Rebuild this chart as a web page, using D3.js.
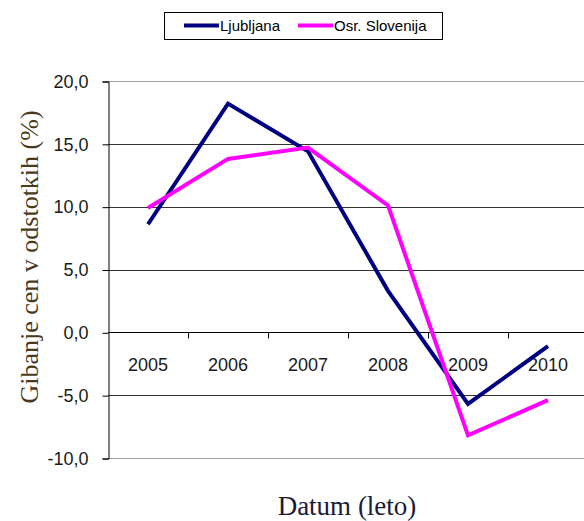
<!DOCTYPE html>
<html>
<head>
<meta charset="utf-8">
<script src="https://cdn.jsdelivr.net/npm/d3@7"></script>
<style>
  html, body { margin: 0; padding: 0; background: #ffffff; }
  svg { display: block; }
</style>
</head>
<body>
<svg id="chart" width="584" height="521"></svg>
<script>
// Letna gibanja cen (%)
const years = ["2005", "2006", "2007", "2008", "2009", "2010"];
const ljubljana = [8.6, 18.2, 14.4, 3.3, -5.7, -1.1];
const slovenija = [9.9, 13.8, 14.7, 10.1, -8.2, -5.4];
const yTicks = [-10, -5, 0, 5, 10, 15, 20];
const seriesNames = ["Ljubljana", "Osr. Slovenija"];
const seriesColors = ["#000080", "#ff00ff"];

const svg = d3.select("#chart");
const plot = { left: 108, right: 588, top: 81, bottom: 458 };
const sans = "Liberation Sans, Arial, sans-serif";
const serif = "Liberation Serif, Times New Roman, serif";

const x = d3.scaleBand().domain(years).range([plot.left, plot.right]);
const y = d3.scaleLinear().domain([-10, 20]).range([plot.bottom, plot.top]);

// horizontal gridlines
svg.append("g").selectAll("line")
  .data(yTicks)
  .join("line")
  .attr("x1", plot.left).attr("x2", plot.right)
  .attr("y1", d => Math.round(y(d)) + 0.5).attr("y2", d => Math.round(y(d)) + 0.5)
  .attr("stroke", d => (d === 20 || d === -10) ? "#a0a0a0" : (d === 0 ? "#000" : "#333"))
  .attr("stroke-width", 1);

// y axis
const yAxis = d3.axisLeft(y).tickValues(yTicks).tickSize(6).tickPadding(14)
  .tickFormat(d => d3.format(".1f")(d).replace(".", ",").replace("−", "-"));
const gy = svg.append("g").attr("transform", `translate(${plot.left + 0.5},0.5)`).call(yAxis);
gy.select(".domain").attr("stroke", "#000");
gy.selectAll(".tick line").attr("stroke", "#000");
gy.selectAll(".tick text")
  .attr("font-family", sans)
  .attr("font-size", 18).attr("fill", "#1a1a1a");

// x axis along the zero line, ticks between categories
const xAxis = d3.axisBottom(x).tickSize(0).tickPadding(0);
const gx = svg.append("g").attr("transform", `translate(0,${Math.round(y(0)) + 0.5})`).call(xAxis);
gx.select(".domain").remove();
gx.selectAll(".tick text")
  .attr("dy", 0).attr("y", 38)
  .attr("font-family", sans)
  .attr("font-size", 18).attr("fill", "#1a1a1a");
gx.selectAll(".sep")
  .data(years.slice(1))
  .join("line")
  .attr("class", "sep")
  .attr("x1", d => Math.round(x(d)) + 0.5).attr("x2", d => Math.round(x(d)) + 0.5)
  .attr("y1", 0).attr("y2", 6)
  .attr("stroke", "#000");

// series lines
const line = d3.line()
  .x((d, i) => x(years[i]) + x.bandwidth() / 2)
  .y(d => y(d));

[ljubljana, slovenija].forEach((vals, k) => {
  svg.append("path")
    .datum(vals)
    .attr("d", line)
    .attr("fill", "none")
    .attr("stroke", seriesColors[k])
    .attr("stroke-width", 4)
    .attr("stroke-linejoin", "miter")
    .attr("stroke-linecap", "butt");
});

// legend
const lg = svg.append("g");
lg.append("rect")
  .attr("x", 164.5).attr("y", 12.5).attr("width", 278).attr("height", 27)
  .attr("fill", "#fff").attr("stroke", "#000").attr("stroke-width", 1);
const legendX = [184, 298];
seriesNames.forEach((name, k) => {
  lg.append("line")
    .attr("x1", legendX[k]).attr("x2", legendX[k] + 35)
    .attr("y1", 25.5).attr("y2", 25.5)
    .attr("stroke", seriesColors[k]).attr("stroke-width", 4);
  lg.append("text")
    .attr("x", legendX[k] + 36).attr("y", 31)
    .attr("font-family", sans)
    .attr("font-size", 15).attr("fill", "#000")
    .text(name);
});

// axis titles
svg.append("text")
  .attr("transform", "translate(38,257) rotate(-90)")
  .attr("text-anchor", "middle")
  .attr("font-family", serif)
  .attr("font-size", 26).attr("fill", "#4a3a1c")
  .text("Gibanje cen v odstotkih (%)");

svg.append("text")
  .attr("x", 347).attr("y", 515)
  .attr("text-anchor", "middle")
  .attr("font-family", serif)
  .attr("font-size", 27).attr("fill", "#1a1a3a")
  .text("Datum (leto)");
</script>
</body>
</html>
